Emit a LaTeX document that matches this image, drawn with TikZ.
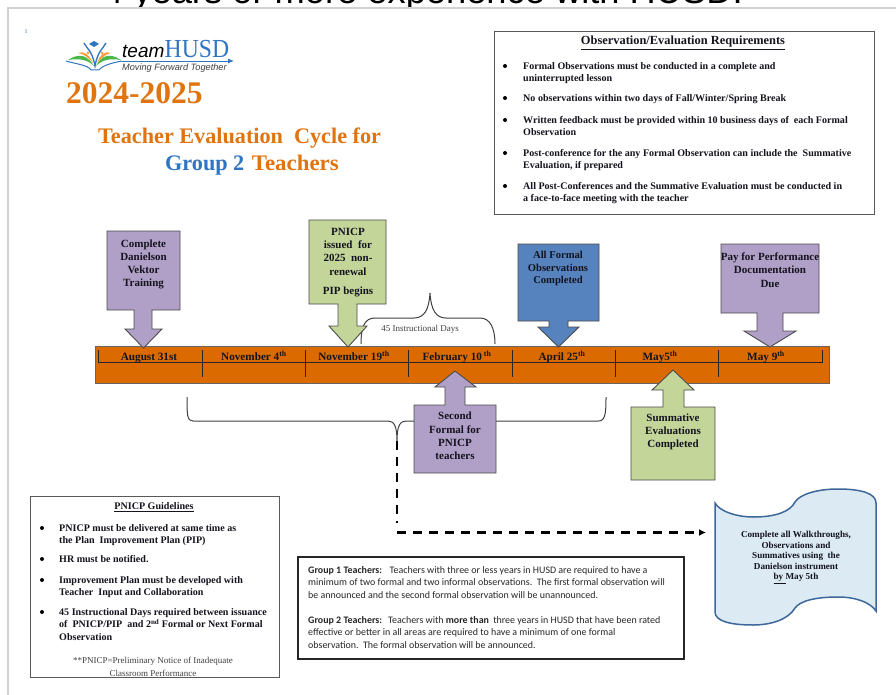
\documentclass[tikz,border=0pt]{standalone}
\usepackage{fontspec}
\setmainfont{Liberation Serif}
\setsansfont{Liberation Sans}
\newfontfamily\calfont{Carlito}
\usetikzlibrary{arrows.meta}
\definecolor{barorange}{HTML}{DB6B00}
\definecolor{titleorange}{HTML}{E0740F}
\definecolor{titleblue}{HTML}{2F75C2}
\definecolor{boxpurple}{HTML}{B09FC6}
\definecolor{boxgreen}{HTML}{C4D59A}
\definecolor{boxblue}{HTML}{5682BE}
\definecolor{scrollblue}{HTML}{DBEAF3}
\definecolor{scrollline}{HTML}{3D6899}
\definecolor{inkdark}{HTML}{14141E}
\tikzset{
  purplebox/.style={draw=black!70,line width=0.9pt,fill=boxpurple},
  greenbox/.style={draw=black!70,line width=0.9pt,fill=boxgreen},
  bluebox/.style={draw=black!70,line width=0.9pt,fill=boxblue},
  plainbox/.style={draw=black!65,line width=0.9pt},
  calloutlabel/.style={align=center,inner sep=0pt,text=inkdark,font=\fontsize{11}{13.2}\selectfont\bfseries},
  barlabel/.style={anchor=base,inner sep=0pt,text=inkdark,font=\fontsize{11.2}{12}\selectfont\bfseries},
  ruletext/.style={anchor=north west,align=left,inner sep=0pt,text=inkdark,font=\fontsize{10.05}{12}\selectfont\bfseries},
  grouptext/.style={anchor=north west,align=left,inner sep=0pt,text=black!85,font=\fontsize{9.95}{12.6}\calfont\selectfont},
  brace/.style={draw=black!75,line width=1pt},
  dashline/.style={draw=black,line width=2.4pt,dash pattern=on 9pt off 7pt}
}
\begin{document}
\begin{tikzpicture}[x=1pt,y=-1pt]
  \clip (0,0) rectangle (896,695);
  \fill[white] (0,0) rectangle (896,695);
  % heading left over from the slide above
  \node[anchor=base,inner sep=0pt,font=\fontsize{36.3}{36}\sffamily\selectfont] (slidetext) at (423,3.5) {4 years or more experience with HUSD.};
  \fill[white] (8,8) rectangle (896,695);
  \draw[black!18,line width=1.5pt] (8,695) -- (8,8) -- (896,8);
  \node[inner sep=0pt,text=titleblue,font=\fontsize{6}{6}\selectfont] (pagenum) at (26,32) {1};
  % logo
  \fill[green!60!black!70] (68,60) .. controls (80,52) and (88,56) .. (94,66) .. controls (88,60) and (80,58) .. cycle;
  \fill[green!60!black!70] (121,60) .. controls (109,52) and (101,56) .. (96,66) .. controls (102,60) and (110,58) .. cycle;
  \fill[orange!80] (78,53) .. controls (84,50) and (90,56) .. (93,63) .. controls (88,57) and (84,54) .. cycle;
  \fill[orange!80] (111,53) .. controls (105,50) and (99,56) .. (97,63) .. controls (102,57) and (106,54) .. cycle;
  \fill[orange!80] (88,53) circle(1.5);
  \fill[orange!80] (102,53) circle(1.5);
  \draw[titleblue,line width=1.3pt] (84,43) .. controls (87,49) and (92,50) .. (95,66) .. controls (98,50) and (103,49) .. (106,43);
  \fill[titleblue] (94,41) -- (99,44) -- (94,47) -- (89,44) -- cycle;
  \draw[titleblue,line width=1pt] (66,61) .. controls (76,64) and (88,65) .. (91,70) -- (99,70) .. controls (103,65) and (112,63) .. (122,61);
  \draw[titleblue,line width=0.9pt,-{Latex[length=6pt,width=5pt]}] (122,61) -- (234,61);
  \node[anchor=base west,inner sep=0pt,font=\fontsize{19}{19}\sffamily\itshape\selectfont] (logoteam) at (122,58) {team};
  \node[anchor=base west,inner sep=0pt,text=titleblue,font=\fontsize{26}{26}\selectfont] (logohusd) at (164.5,58) {\scalebox{0.91}[1]{HUSD}};
  \node[anchor=base west,inner sep=0pt,text=black!75,font=\fontsize{9.2}{10}\sffamily\itshape\selectfont] (logotag) at (122,71) {Moving Forward Together};
  % titles
  \node[anchor=base west,inner sep=0pt,text=titleorange,font=\fontsize{31.5}{32}\selectfont\bfseries] (yeartext) at (66,104) {2024-2025};
  \node[anchor=base west,inner sep=0pt,text=titleorange,font=\fontsize{22.2}{22}\selectfont\bfseries] (titleone) at (98,144) {Teacher Evaluation\ \ Cycle for};
  \node[anchor=base west,inner sep=0pt,text=titleorange,font=\fontsize{22.2}{22}\selectfont\bfseries] (titletwo) at (165,171) {\textcolor{titleblue}{Group 2}\hspace{2pt} \scalebox{1.03}[1]{Teachers}};
  % requirements box
  \draw[plainbox] (494,31) rectangle (874,214);
  \node[inner sep=0pt,text=inkdark,font=\fontsize{12.4}{12}\selectfont\bfseries] (reqtitle) at (683,43) {\underline{Observation/Evaluation Requirements}};
  \foreach \y in {66,98,120,153,186} \fill[black] (505,\y) circle(2);
  \node[ruletext] (reqa) at (523,62) {Formal Observations must be conducted in a complete and\\uninterrupted lesson};
  \node[ruletext] (reqb) at (523,94) {No observations within two days of Fall/Winter/Spring Break};
  \node[ruletext] (reqc) at (523,116) {Written feedback must be provided within 10 business days of\ \ each Formal\\Observation};
  \node[ruletext] (reqd) at (523,149) {Post-conference for the any Formal Observation can include the\ \ Summative\\Evaluation, if prepared};
  \node[ruletext] (reqe) at (523,182) {All Post-Conferences and the Summative Evaluation must be conducted in\\a face-to-face meeting with the teacher};
  % timeline
  \draw[black!60,line width=0.9pt,fill=barorange] (95,346) rectangle (829,383);
  \draw[black!85,line width=0.7pt] (98,350) -- (98,362) -- (822,362) -- (822,350);
  \foreach \x in {202,305,408,512,615,718} \draw[black!85,line width=0.7pt] (\x,350) -- (\x,377);
  \node[barlabel] (augdate) at (149,360) {August 31st};
  \node[barlabel] (novfour) at (254,360) {November 4\textsuperscript{th}};
  \node[barlabel] (novnine) at (354,360) {November 19\textsuperscript{th}};
  \node[barlabel] (febdate) at (457,360) {February 10\,\textsuperscript{th}};
  \node[barlabel] (aprdate) at (562,360) {April 25\textsuperscript{th}};
  \node[barlabel] (mayfive) at (660,360) {May5\textsuperscript{th}};
  \node[barlabel] (maynine) at (766,360) {May 9\textsuperscript{th}};
  % arrows into the bar
  \draw[purplebox] (107,231) -- (180,231) -- (180,310) -- (152,310) -- (152,329) -- (162,329) -- (143.5,348) -- (125,329) -- (134,329) -- (134,310) -- (107,310) -- cycle;
  \node[calloutlabel] (trainbox) at (143.5,264.5) {Complete\\Danielson\\Vektor\\Training};
  \draw[brace] (361,344) .. controls (361,328) and (364,318) .. (375,318) -- (414,318) .. controls (424,318) and (429,310) .. (430,293) .. controls (431,310) and (436,318) .. (446,318) -- (480,318) .. controls (490,318) and (495,328) .. (495,344);
  \draw[greenbox] (309,220) -- (386,220) -- (386,304) -- (357,304) -- (357,326) -- (367,326) -- (348,347) -- (329,326) -- (338,326) -- (338,304) -- (309,304) -- cycle;
  \node[calloutlabel] (pnicpbox) at (348,262.5) {PNICP\\issued\ \ for\\2025\ \ non-\\renewal\hspace*{14pt}\\[6pt]PIP begins};
  \node[inner sep=0pt,text=black!75,font=\fontsize{9}{10}\selectfont] (dayslabel) at (420,329) {45 Instructional Days};
  \draw[bluebox] (518,244) -- (599,244) -- (599,321) -- (568,321) -- (568,327) -- (579,327) -- (558.5,347) -- (538,327) -- (549,327) -- (549,321) -- (518,321) -- cycle;
  \node[calloutlabel,font=\fontsize{10.6}{12.6}\selectfont\bfseries] (formalbox) at (558,268.5) {All Formal\\Observations\\Completed};
  \draw[purplebox] (721,244) -- (819,244) -- (819,313) -- (783,313) -- (783,331) -- (796,331) -- (770,347) -- (744,331) -- (757,331) -- (757,313) -- (721,313) -- cycle;
  \node[calloutlabel] (paybox) at (770,270) {Pay for Performance\\Documentation\\Due};
  % lower bracket
  \coordinate (bracetip) at (397,441);
  \draw[brace] (187,397) .. controls (187,415) and (187,421) .. (193,421) -- (388,421) .. controls (394,421) and (397,426) .. (bracetip) .. controls (397,426) and (400,421) .. (406,421) -- (598,421) .. controls (605,421) and (606,415) .. (606,397);
  \draw[purplebox] (455,371) -- (476,387) -- (465,387) -- (465,405) -- (496,405) -- (496,473) -- (414,473) -- (414,405) -- (445,405) -- (445,387) -- (435,387) -- cycle;
  \node[calloutlabel] (secondbox) at (455,436) {Second\\Formal for\\PNICP\\teachers};
  \draw[greenbox] (673,370) -- (694,390) -- (684,390) -- (684,407) -- (715,407) -- (715,480) -- (631,480) -- (631,407) -- (663,407) -- (663,390) -- (652,390) -- cycle;
  \node[calloutlabel] (sumbox) at (673,432) {Summative\\Evaluations\\Completed};
  % scroll
  \draw[draw=scrollline,fill=scrollblue,line width=1.5pt] (715,503) .. controls (720,512) and (738,517) .. (753,517) .. controls (775,517) and (790,512) .. (795,502) .. controls (800,494) and (818,489) .. (838,489) .. controls (860,489) and (876,493) .. (876,503) -- (876,611) .. controls (870,602) and (855,597) .. (838,597) .. controls (815,597) and (800,601) .. (795,608) .. controls (788,620) and (770,625) .. (753,625) .. controls (730,625) and (715,621) .. (715,612) -- cycle;
  \node[inner sep=0pt,align=center,text=inkdark,font=\fontsize{9.15}{10.5}\selectfont\bfseries] (scrolltext) at (796,557.5) {Complete all Walkthroughs,\\Observations and\\Summatives using\ \ the\\Danielson instrument\\\underline{by }May 5th};
  \coordinate (scrollin) at (706,532.5);
  \coordinate (dashcorner) at (397,532.5);
  \draw[dashline] (bracetip) -- (397,523);
  \draw[dashline,-{Latex[length=7pt,width=7pt]}] (dashcorner) -- (scrollin);
  % guidelines box
  \draw[plainbox] (30,496) rectangle (279,677);
  \node[inner sep=0pt,text=inkdark,font=\fontsize{10.05}{12}\selectfont\bfseries] (guidetitle) at (154,507) {\underline{PNICP Guidelines}};
  \foreach \y in {528,559,580,612} \fill[black] (42,\y) circle(2);
  \node[ruletext] (guidea) at (59,524) {PNICP must be delivered at same time as\\the Plan\ \ Improvement Plan (PIP)};
  \node[ruletext] (guideb) at (59,555) {HR must be notified.};
  \node[ruletext] (guidec) at (59,576) {Improvement Plan must be developed with\\Teacher\ \ Input and Collaboration};
  \node[ruletext,font=\fontsize{10.05}{12.8}\selectfont\bfseries] (guided) at (59,608) {45 Instructional Days required between issuance\\of\ \ PNICP/PIP\ \ and 2\textsuperscript{nd} Formal or Next Formal\\Observation};
  \node[inner sep=0pt,align=center,text=black!75,font=\fontsize{9}{13}\selectfont] (guidenote) at (153,666.5) {**PNICP=Preliminary Notice of Inadequate\\Classroom Performance};
  % group box
  \draw[black!85,line width=1.8pt] (298,557) rectangle (684,659);
  \node[grouptext] (groupone) at (308,566) {\textbf{Group 1 Teachers:}\hspace{3pt}\ \ Teachers with three or less years in HUSD are required to have a\\minimum of two formal and two informal observations.\ \ The first formal observation will\\be announced and the second formal observation will be unannounced.};
  \node[grouptext] (grouptwo) at (308,616) {\textbf{Group 2 Teachers:}\hspace{3pt} Teachers with \textbf{more than}\hspace{2pt} three years in HUSD that have been rated\\effective or better in all areas are required to have a minimum of one formal\\observation.\ \ The formal observation will be announced.};
\end{tikzpicture}
\end{document}
